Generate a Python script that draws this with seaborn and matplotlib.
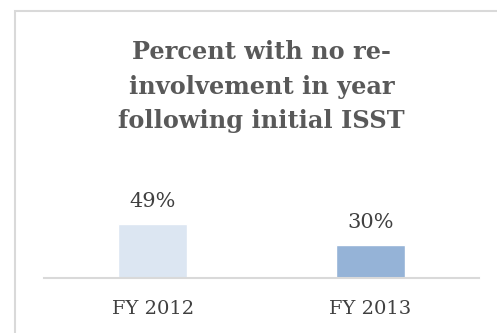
import matplotlib
matplotlib.use("Agg")
import matplotlib.pyplot as plt
import seaborn as sns
import pandas as pd
from matplotlib.patches import Rectangle

categories = ["FY 2012", "FY 2013"]
values = [0.49, 0.30]
value_labels = ["49%", "30%"]
bar_colors = ["#DCE6F2", "#95B3D7"]
title_lines = ["Percent with no re-", "involvement in year", "following initial ISST"]

sns.set_theme(style="white")
plt.rcParams['font.family'] = ['DejaVu Serif']

W, H = 497, 333
fig = plt.figure(figsize=(W / 100, H / 100), dpi=100)

# chart border
fig.patches.append(Rectangle((15 / W, -0.1), 1.2, (H - 11) / H + 0.1,
                             transform=fig.transFigure, fill=False,
                             edgecolor="#D9D9D9", linewidth=1.5))

ax = fig.add_axes([44 / W, (H - 278) / H, 435 / W, 66 / H])
df = pd.DataFrame({"cat": categories, "val": values})
sns.barplot(data=df, x="cat", y="val", hue="cat", palette=bar_colors,
            width=0.317, legend=False, ax=ax, saturation=1)
ax.set_ylim(0, 0.6)
ax.set_xlim(-0.5, 1.5)
for s in ["top", "right", "left"]:
    ax.spines[s].set_visible(False)
ax.spines["bottom"].set_color("#D9D9D9")
ax.spines["bottom"].set_linewidth(1.5)
ax.set_yticks([])
ax.set_xlabel("")
ax.set_ylabel("")
ax.tick_params(axis="x", length=0, pad=16, labelsize=14, labelcolor="#404040")
ax.patch.set_alpha(0)

for i, (v, lab) in enumerate(zip(values, value_labels)):
    ax.annotate(lab, (i, v), xytext=(0, 12), textcoords="offset points",
                ha="center", va="baseline", fontsize=15, color="#404040")

baselines = [59, 94, 128]
for line, b in zip(title_lines, baselines):
    fig.text(261.5 / W, (H - b) / H, line, ha="center", va="baseline",
             fontsize=17.3, fontweight="bold", color="#595959")

fig.savefig("out.png", dpi=100)
